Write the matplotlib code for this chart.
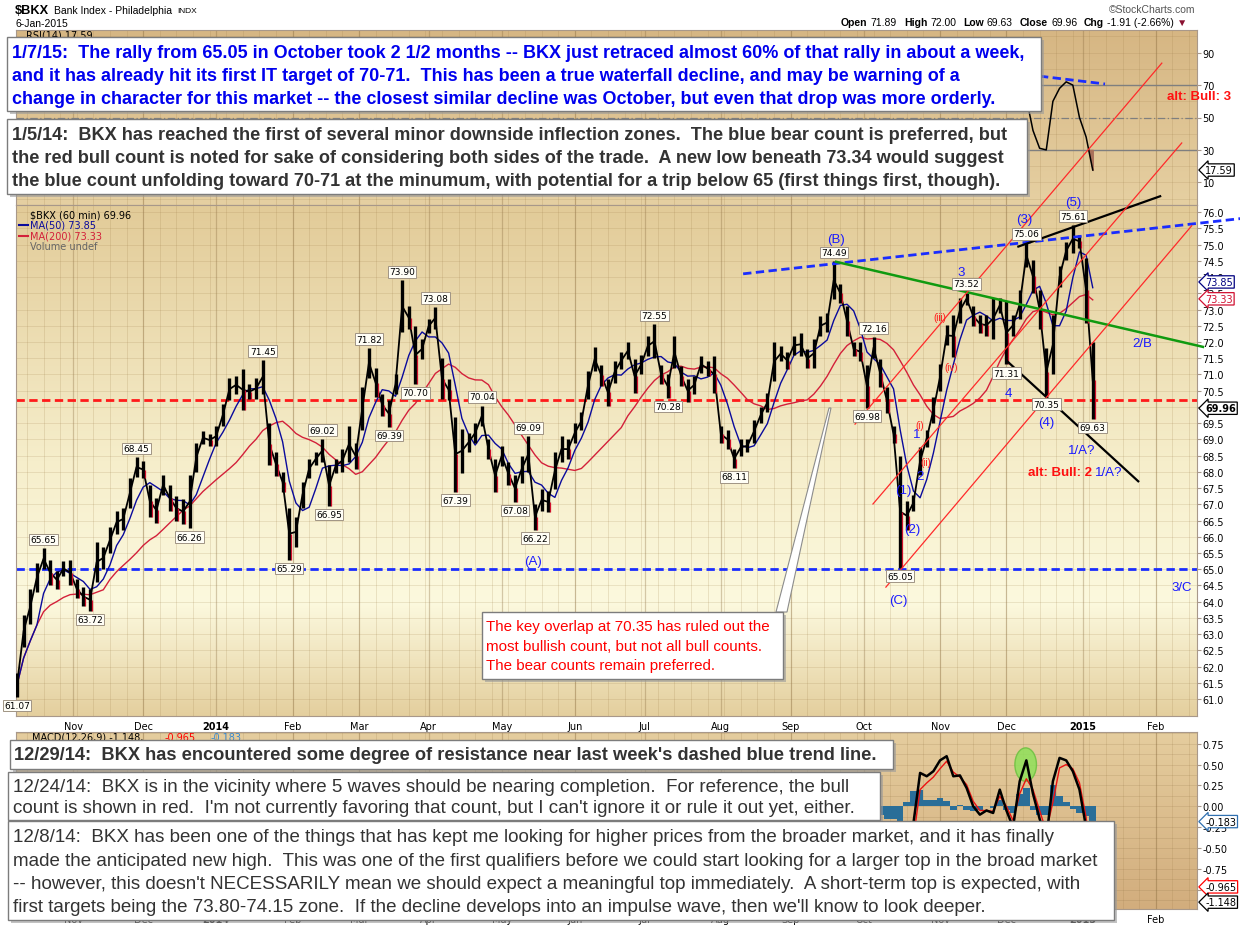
import numpy as np
import pandas as pd
import matplotlib
matplotlib.use("Agg")
import matplotlib.pyplot as plt
from matplotlib.patches import Rectangle, Polygon, Ellipse
from matplotlib.lines import Line2D
from matplotlib.colors import LinearSegmentedColormap

plt.rcParams['font.family'] = ['Liberation Sans', 'DejaVu Sans']

# one sample every 2nd business day starting with the first bar
START = "2013-10-09"

hi = [61.8, 63.6, 64.4, 65.2, 65.65, 65.3, 64.95, 65.25, 65.3, 64.7,
      64.45, 64.4, 65.85, 65.7, 66.3, 66.8, 66.9, 67.8, 68.45, 68.34,
      67.6, 67.2, 67.9, 67.6, 67.26, 67.16, 67.9, 68.9, 69.25, 69.16,
      69.4, 70.1, 70.9, 70.96, 71.16, 70.7, 70.9, 71.45, 69.5, 68.6,
      68.0, 66.9, 66.6, 67.7, 68.4, 68.6, 69.02, 68.2, 68.4, 68.7,
      69.42, 68.9, 70.6, 71.82, 71.2, 70.4, 70.2, 71.0, 73.9, 73.1,
      72.5, 72.1, 72.7, 73.08, 71.5, 70.86, 69.7, 69.32, 69.21, 69.5,
      70.04, 69.0, 68.4, 68.8, 68.29, 67.9, 68.5, 69.09, 67.0, 67.47,
      67.4, 68.6, 69.11, 69.01, 69.5, 69.83, 71.1, 71.85, 71.3, 70.86,
      71.4, 71.7, 71.99, 71.47, 71.6, 72.19, 72.55, 71.3, 71.0, 72.19,
      71.27, 70.86, 70.96, 71.57, 71.4, 71.57, 69.42, 69.3, 68.7, 69.01,
      69.01, 69.6, 70.0, 70.44, 71.99, 71.88, 71.7, 72.19, 72.29, 71.78,
      72.1, 72.81, 72.9, 74.49, 73.8, 73.1, 71.99, 72.0, 71.3, 72.16,
      71.47, 70.6, 69.42, 68.5, 67.1, 67.3, 68.76, 69.3, 70.3, 71.33,
      72.51, 72.83, 73.36, 73.52, 73.1, 72.83, 72.83, 73.36, 73.36, 73.26,
      72.83, 73.6, 75.06, 74.54, 73.6, 71.8, 72.83, 74.33, 75.08, 75.61,
      75.3, 74.6, 72.0]
lo = [61.07, 62.6, 63.3, 64.3, 65.0, 64.5, 64.4, 64.8, 64.5, 64.1,
      63.87, 63.72, 64.6, 65.0, 65.5, 66.1, 66.2, 66.9, 67.85, 67.8,
      66.6, 66.44, 67.3, 66.8, 66.5, 66.4, 66.26, 68.0, 68.85, 68.8,
      68.8, 69.4, 70.2, 70.4, 69.9, 70.24, 70.24, 70.4, 68.2, 67.88,
      67.37, 65.29, 65.7, 66.9, 67.8, 68.2, 68.3, 66.95, 67.98, 68.0,
      68.29, 68.08, 69.3, 70.9, 70.3, 69.73, 69.39, 70.4, 72.3, 72.4,
      70.7, 71.47, 72.29, 72.4, 70.24, 70.2, 67.39, 67.98, 68.6, 68.9,
      69.4, 68.4, 67.37, 68.19, 67.6, 67.08, 67.67, 68.0, 66.22, 66.8,
      66.75, 67.47, 68.3, 68.39, 68.9, 69.3, 70.24, 71.1, 70.65, 70.03,
      70.75, 71.16, 71.47, 70.44, 71.0, 71.57, 71.5, 70.7, 70.28, 71.2,
      70.65, 70.14, 70.4, 71.06, 70.96, 70.44, 68.9, 68.7, 68.11, 68.5,
      68.6, 68.9, 69.5, 69.83, 70.8, 71.4, 71.16, 71.6, 71.57, 71.2,
      71.2, 72.19, 72.3, 73.32, 73.2, 72.19, 71.57, 71.4, 69.98, 71.5,
      70.6, 69.8, 68.9, 65.05, 66.2, 66.8, 67.9, 68.76, 69.5, 70.5,
      71.9, 71.54, 72.6, 73.15, 72.5, 72.29, 72.2, 72.08, 72.9, 71.31,
      72.2, 72.72, 74.3, 73.5, 72.4, 70.35, 71.0, 73.7, 74.54, 74.75,
      74.9, 72.6, 69.63]

rsi_from = 152
rsi = [62, 42, 31, 30, 60, 68, 72, 70, 50, 38, 17.59]
macd_from = 125
macd = [-0.35, -0.5, -0.45, -0.1, 0.1, -0.4, -0.7, -0.9, -1.2, -0.8,
        -0.2, 0.4, 0.36, 0.42, 0.55, 0.6, 0.36, 0.37, 0.22, 0.0,
        -0.1, -0.05, -0.08, 0.2, -0.05, -0.25, 0.3, 0.55, 0.15, -0.15,
        -0.4, 0.3, 0.58, 0.55, 0.42, 0.2, -0.25, -1.148]
signal = [-0.30, -0.40, -0.45, -0.20, 0.02, -0.30, -0.55, -0.75, -1.0, -0.85,
          -0.38, 0.20, 0.28, 0.35, 0.45, 0.54, 0.41, 0.35, 0.26, 0.06,
          -0.05, -0.05, -0.06, 0.12, 0.0, -0.17, 0.15, 0.33, 0.20, -0.05,
          -0.30, 0.05, 0.46, 0.50, 0.45, 0.28, -0.13, -0.965]

# header quote
ohlc = [("Open", "71.89"), ("High", "72.00"), ("Low", "69.63"), ("Close", "69.96")]
chg = "-1.91 (-2.66%)"

# swing highs / lows tagged on the chart: (sample, value, above?)
price_tags = [(0, 61.07, False), (4, 65.65, True), (11, 63.72, False), (18, 68.45, True),
              (26, 66.26, False), (37, 71.45, True), (41, 65.29, False), (46, 69.02, True),
              (47, 66.95, False), (53, 71.82, True), (56, 69.39, False), (58, 73.90, True),
              (60, 70.70, False), (63, 73.08, True), (66, 67.39, False), (70, 70.04, True),
              (75, 67.08, False), (77, 69.09, True), (78, 66.22, False), (96, 72.55, True),
              (98, 70.28, False), (108, 68.11, False), (123, 74.49, True), (128, 69.98, False),
              (129, 72.16, True), (133, 65.05, False), (143, 73.52, True), (149, 71.31, False),
              (152, 75.06, True), (155, 70.35, False), (159, 75.61, True), (162, 69.63, False)]

W, H = 1240, 928


def fx(px):
    return px / W


def fy(py):
    return 1 - py / H


hi = np.array(hi)
lo = np.array(lo)
mid = (hi + lo) / 2
d0 = np.datetime64(START)
dates = pd.bdate_range(START, periods=len(hi), freq="2B")
x = np.busday_count(d0, dates.values.astype("datetime64[D]"))
ma50 = pd.Series(mid).rolling(4, min_periods=1).mean()
ma200 = pd.Series(mid).rolling(14, min_periods=1).mean()

months = pd.date_range("2013-11-01", "2015-02-01", freq="MS")
mpos = np.busday_count(d0, months.values.astype("datetime64[D]"))
mlbl = [str(m.year) if m.month == 1 else m.strftime("%b") for m in months]
weeks = pd.date_range("2013-10-07", "2015-03-02", freq="W-MON")
wpos = np.busday_count(d0, weeks.values.astype("datetime64[D]"))
XL = (-0.3, 355.4)

fig = plt.figure(figsize=(12.4, 9.28), dpi=100)
fig.patch.set_facecolor("white")
axw = (1197 - 16) / W
ax_rsi = fig.add_axes([fx(16), fy(206), axw, (206 - 31) / H])
ax = fig.add_axes([fx(16), fy(717), axw, (717 - 206) / H])
ax_m = fig.add_axes([fx(16), fy(910), axw, (910 - 733) / H])


def gradient(a, stops):
    cmap = LinearSegmentedColormap.from_list("bg", stops)
    a.imshow(np.linspace(0, 1, 256).reshape(-1, 1), aspect="auto", cmap=cmap,
             extent=[0, 1, 0, 1], transform=a.transAxes, zorder=0)


gradient(ax, [(0, "#e2cb98"), (0.5, "#f6eecb"), (0.78, "#fcf9de"), (1, "#e4cf9e")])
gradient(ax_rsi, [(0, "#d6b683"), (1, "#e6d0a2")])
gradient(ax_m, [(0, "#e5cd9e"), (1, "#d2ad7d")])

for a in (ax_rsi, ax, ax_m):
    for p in wpos:
        a.axvline(p, color="#9c7c48", alpha=0.22, lw=0.6, zorder=0.5)
    for p in mpos:
        a.axvline(p, color="#8a6c40", alpha=0.35, lw=0.9, zorder=0.5)
    for s in a.spines.values():
        s.set_color("#a8988a")
    a.yaxis.tick_right()
    a.tick_params(axis="y", length=3, pad=1, labelsize=7, colors="#a8988a",
                  labelcolor="black", labelfontfamily="DejaVu Sans")

for p in np.arange(61, 76.01, 0.5):
    ax.axhline(p, color="#9c7c48", alpha=0.2, lw=0.6, zorder=0.5)
for p in np.arange(0, 101, 10):
    ax_rsi.axhline(p, color="#9c7c48", alpha=0.2, lw=0.6, zorder=0.5)
for p in np.arange(-1.25, 0.9, 0.125):
    ax_m.axhline(p, color="#8a6c40", alpha=0.2, lw=0.6, zorder=0.5)

# ---- price panel
ax.axhline(70.2, color="#ff1a1a", lw=2, ls=(0, (3, 1.6)), zorder=2)
ax.axhline(65.0, color="#1a2cff", lw=2, ls=(0, (3, 1.6)), zorder=2)
ax.plot(x, ma200, color="#d3203a", lw=1.0, zorder=2.5)
ax.plot(x, ma50, color="#0a0a9c", lw=1.0, zorder=2.5)
ax.vlines(x, lo, hi, color="black", lw=2.4, zorder=3)
ax.plot(x, mid, color="black", lw=1.3, zorder=3)
down = np.r_[False, mid[1:] < mid[:-1]]
ax.vlines(x[down] + 0.6, lo[down], mid[down], color="#d0102c", lw=0.9, zorder=3.5)

for j, v, above in price_tags:
    ax.annotate(f"{v:.2f}", xy=(x[j], v), xytext=(0, 3 if above else -3),
                textcoords="offset points", ha="center", va="bottom" if above else "top",
                fontsize=6.5, family="DejaVu Sans", zorder=6,
                bbox=dict(boxstyle="square,pad=0.15", fc="#fffef6", ec="#a09484", lw=0.7))

# trend lines and channels (sample axis in business days)
ax.plot([218.7, 368.4], [74.10, 75.80], color="#1a2cff", lw=2, ls=(0, (3, 1.6)), clip_on=False, zorder=4)
ax.plot([246.7, 357.2], [74.47, 71.85], color="#109a10", lw=1.8, clip_on=False, zorder=4)
ax.plot([301.6, 344.3], [74.94, 76.49], color="black", lw=1.6, clip_on=False, zorder=4)
ax.plot([298.1, 337.7], [71.42, 67.71], color="black", lw=1.6, zorder=4)
for (xa, ya, xb, yb) in [(252.4, 69.47, 344.8, 80.59), (257.8, 67.01, 350.8, 78.13),
                         (261.7, 64.45, 353.8, 75.58)]:
    ax.plot([xa, xb], [ya, yb], color="#ff2a2a", lw=0.9, clip_on=False, zorder=4)

blue = "#1a1aff"
for s, xi, yi in [("(A)", 155.4, 65.26), ("(B)", 246.7, 75.17), ("(C)", 265.4, 64.06),
                  ("(1)", 266.9, 67.44), ("(2)", 269.6, 66.24), ("1", 271.1, 69.18),
                  ("2", 272.0, 67.87), ("3", 284.3, 74.16), ("4", 298.5, 70.44),
                  ("(3)", 303.3, 75.78), ("(4)", 309.9, 69.55), ("(5)", 318.1, 76.32),
                  ("2/B", 338.8, 71.98), ("1/A?", 320.8, 68.67), ("1/A?", 328.9, 68.0),
                  ("3/C", 350.8, 64.46)]:
    ax.text(xi, yi, s, color=blue, fontsize=9.5, ha="center", va="center", zorder=7)
for s, xi, yi in [("(iii)", 278.0, 72.78), ("(iv)", 281.3, 71.22), ("(i)", 272.0, 69.44),
                  ("(ii)", 273.8, 68.31)]:
    ax.text(xi, yi, s, color="#ff1a1a", fontsize=7, ha="center", va="center", zorder=7)
ax.text(314.2, 68.01, "alt: Bull: 2", color="#ff1010", fontsize=9.5, fontweight="bold",
        ha="center", va="center", zorder=7)

# tick labels that sit fully under a value tag are left blank
yt = np.arange(61, 76.01, 0.5)
ax.set_ylim(60.48, 76.22)
ax.set_yticks(yt)
ax.set_yticklabels(["" if abs(v - 70.0) < 1e-6 else f"{v:.1f}" for v in yt])
ax.set_xticks(mpos)
ax.set_xticklabels(mlbl)
ax.tick_params(axis="x", length=0, pad=3.5, labelsize=7, labelfontfamily="DejaVu Sans")
for t in ax.get_xticklabels():
    if t.get_text().isdigit():
        t.set_fontweight("bold")


def side_tag(a, val, txt, ec, tc, bold=False):
    a.annotate(txt, xy=(1.0, val), xycoords=("axes fraction", "data"), xytext=(6, 0),
               textcoords="offset points", ha="left", va="center", fontsize=7,
               family="DejaVu Sans", color=tc, fontweight="bold" if bold else "normal",
               annotation_clip=False, zorder=8,
               bbox=dict(boxstyle="larrow,pad=0.12", fc="white", ec=ec, lw=0.9))


side_tag(ax, 73.85, "73.85", "#000080", "#000080")
side_tag(ax, 73.33, "73.33", "#d01030", "#d01030")
side_tag(ax, 69.96, "69.96", "black", "black", bold=True)

# ---- RSI panel
xr = x[rsi_from:rsi_from + len(rsi)]
rsi = np.array(rsi)
ax_rsi.axhline(70, color="#7f7f7f", lw=1, zorder=1)
ax_rsi.axhline(30, color="#7f7f7f", lw=1, zorder=1)
ax_rsi.axhline(50, color="#7f7f7f", lw=0.9, ls=(0, (6, 2, 1, 2)), zorder=1)
ax_rsi.fill_between(xr, rsi, 30, where=rsi < 30, interpolate=True, color="#a8705a", zorder=2)
ax_rsi.plot(xr, rsi, color="black", lw=1.1, zorder=3)
ax_rsi.plot([308.1, 327.7], [75.5, 70.7], color="#1a2cff", lw=2, ls=(0, (3, 1.6)), zorder=4)
ax_rsi.set_ylim(-4, 104)
ax_rsi.set_yticks([10, 30, 50, 70, 90])
ax_rsi.set_xticks([])
side_tag(ax_rsi, 17.59, "17.59", "black", "black")

# ---- MACD panel
xm = x[macd_from:macd_from + len(macd)]
macd = np.array(macd)
signal = np.array(signal)
ax_m.bar(xm, macd - signal, width=2.0, color="#2a6e98", zorder=2)
ax_m.add_patch(Ellipse((303.8, 0.5), 6.5, 0.4, fc="#8fe05a", ec="#6cc040", alpha=0.85, zorder=2.5))
ax_m.plot(xm, signal, color="#ee1111", lw=1.0, zorder=3)
ax_m.plot(xm, macd, color="black", lw=1.8, zorder=3.5)
mt = np.arange(-1.0, 0.76, 0.25)
ax_m.set_ylim(-1.23, 0.89)
ax_m.set_yticks(mt)
ax_m.set_yticklabels(["" if v < -0.9 else f"{v:.2f}" for v in mt])
ax_m.set_xticks(mpos)
ax_m.set_xticklabels(mlbl)
ax_m.tick_params(axis="x", length=0, pad=3.5, labelsize=7, labelfontfamily="DejaVu Sans")
for t in ax_m.get_xticklabels():
    if t.get_text().isdigit():
        t.set_fontweight("bold")
side_tag(ax_m, -0.183, "-0.183", "#3070b0", "black")
side_tag(ax_m, -0.965, "-0.965", "#ff0000", "black")
side_tag(ax_m, -1.148, "-1.148", "black", "black")

for a in (ax_rsi, ax, ax_m):
    a.set_xlim(XL)

# ---- legends inside panels
fig.text(fx(30), fy(215), "\\$BKX (60 min) 69.96", fontsize=7, family="DejaVu Sans")
fig.text(fx(30), fy(226), "MA(50) 73.85", fontsize=7, family="DejaVu Sans", color="#0a0a9c")
fig.text(fx(30), fy(236.5), "MA(200) 73.33", fontsize=7, family="DejaVu Sans", color="#d3203a")
fig.text(fx(30), fy(247), "Volume undef", fontsize=7, family="DejaVu Sans", color="#666666")
for yy, c in [(226, "#0a0a9c"), (236.5, "#d3203a")]:
    fig.add_artist(Line2D([fx(19), fx(28)], [fy(yy), fy(yy)], color=c, lw=1.5))
fig.text(fx(26), fy(36), "RSI(14) 17.59", fontsize=7, family="DejaVu Sans")
fig.text(fx(32), fy(738), "MACD(12,26,9) -1.148,", fontsize=7, family="DejaVu Sans")
fig.text(fx(165), fy(738), "-0.965", fontsize=7, family="DejaVu Sans", color="red")
fig.text(fx(211), fy(738), "-0.183", fontsize=7, family="DejaVu Sans", color="#3a8ad0")
for t in fig.texts:
    t.set_va("center")

# ---- header
fig.text(fx(15), fy(11), "\\$BKX", fontsize=9.2, fontweight="bold", va="center")
fig.text(fx(54), fy(11), "Bank Index - Philadelphia", fontsize=7.5, va="center")
fig.text(fx(177), fy(11.5), "INDX", fontsize=6, va="center")
fig.text(fx(16), fy(24), "6-Jan-2015", fontsize=7.5, va="center")
fig.text(fx(1195), fy(10), "\u00a9StockCharts.com", fontsize=7.5, ha="right", va="center", color="#555555")

renderer = fig.canvas.get_renderer()
px = 841
parts = []
for k, v in ohlc:
    parts += [(k, "bold", "black", 3), (v, "normal", "black", 7)]
parts += [("Chg", "bold", "black", 3), (chg, "normal", "black", 3), ("\u25bc", "normal", "#8a1030", 0)]
for s, wgt, col, gap in parts:
    t = fig.text(fx(px), fy(23), s, fontsize=7.5, fontweight=wgt, color=col, va="center")
    px += t.get_window_extent(renderer=renderer).width + gap

fig.text(fx(1167), fy(97), "alt: Bull: 3", color="#ff1010", fontsize=9.5, fontweight="bold",
         va="center", zorder=13)


# ---- comment boxes
def box(x0, y0, x1, y1, lines, ys, color, weight, tx, size):
    fig.add_artist(Rectangle((fx(x0 + 3), fy(y1 + 3)), (x1 - x0) / W, (y1 - y0) / H,
                             transform=fig.transFigure, fc="#9a9a9a", ec="none",
                             alpha=0.6, zorder=10))
    fig.add_artist(Rectangle((fx(x0), fy(y1)), (x1 - x0) / W, (y1 - y0) / H,
                             transform=fig.transFigure, fc="white", ec="#7c7c7c",
                             lw=1.0, zorder=11))
    for s, yy in zip(lines, ys):
        fig.text(fx(tx), fy(yy), s, color=color, fontsize=size, fontweight=weight,
                 va="center", ha="left", zorder=12)


fig.add_artist(Polygon([(fx(776), fy(613)), (fx(787), fy(613)), (fx(831), fy(409)), (fx(829), fy(409))],
                       closed=True, transform=fig.transFigure, fc="white", ec="#8c8c8c",
                       lw=0.8, zorder=10.5))

box(7, 38, 1041, 112,
    ["1/7/15:  The rally from 65.05 in October took 2 1/2 months -- BKX just retraced almost 60% of that rally in about a week,",
     "and it has already hit its first IT target of 70-71.  This has been a true waterfall decline, and may be warning of a",
     "change in character for this market -- the closest similar decline was October, but even that drop was more orderly."],
    [54, 76.5, 99], "#0000ee", "bold", 12, 12.95)
box(7, 120, 1027, 195,
    ["1/5/14:  BKX has reached the first of several minor downside inflection zones.  The blue bear count is preferred, but",
     "the red bull count is noted for sake of considering both sides of the trade.  A new low beneath 73.34 would suggest",
     "the blue count unfolding toward 70-71 at the minumum, with potential for a trip below 65 (first things first, though)."],
    [135.5, 158.5, 181.5], "#333333", "bold", 12, 13.05)
box(482, 613, 783, 680,
    ["The key overlap at 70.35 has ruled out the",
     "most bullish count, but not all bull counts.",
     "The bear counts remain preferred."],
    [627, 647, 666], "#ff0000", "normal", 486, 10.9)
box(10, 741, 893, 770,
    ["12/29/14:  BKX has encountered some degree of resistance near last week's dashed blue trend line."],
    [755.5], "#333333", "bold", 14, 13.15)
box(8, 773, 880, 821,
    ["12/24/14:  BKX is in the vicinity where 5 waves should be nearing completion.  For reference, the bull",
     "count is shown in red.  I'm not currently favoring that count, but I can't ignore it or rule it out yet, either."],
    [788, 808.5], "#333333", "normal", 13, 13.5)
box(8, 822, 1114, 921,
    ["12/8/14:  BKX has been one of the things that has kept me looking for higher prices from the broader market, and it has finally",
     "made the anticipated new high.  This was one of the first qualifiers before we could start looking for a larger top in the broad market",
     "-- however, this doesn't NECESSARILY mean we should expect a meaningful top immediately.  A short-term top is expected, with",
     "first targets being the 73.80-74.15 zone.  If the decline develops into an impulse wave, then we'll know to look deeper."],
    [838, 861.5, 885, 908], "#333333", "normal", 13, 13.5)

fig.savefig("out.png", dpi=100)
